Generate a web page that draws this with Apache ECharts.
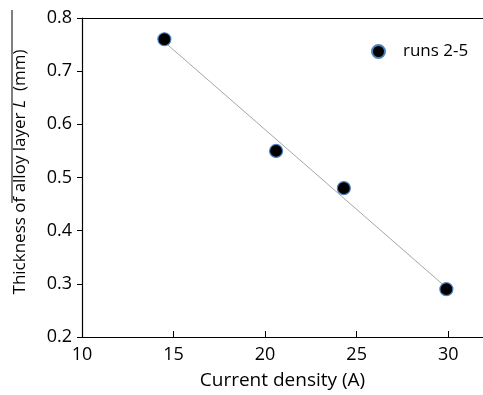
<!DOCTYPE html>
<html>
<head>
<meta charset="utf-8">
<script src="https://cdn.jsdelivr.net/npm/echarts@6/dist/echarts.min.js"></script>
<style>
  html, body { margin: 0; padding: 0; background: #fff; }
  #chart { width: 483px; height: 395px; }
</style>
</head>
<body>
<div id="chart"></div>
<script>
// Current density (A) vs. thickness of the alloy layer L (mm)
const seriesName = 'runs 2-5';
const currentDensity = [14.5, 20.6, 24.3, 29.9];
const thickness = [0.76, 0.55, 0.48, 0.29];
// Linear trend line end points
const trendX = [14.5, 29.9];
const trendY = [0.755, 0.293];

const xTitle = 'Current density (A)';
const fontFamily = '"Open Sans", Lato, sans-serif';

const points = currentDensity.map((x, i) => [x, thickness[i]]);
const trend = trendX.map((x, i) => [x, trendY[i]]);

const chart = echarts.init(document.getElementById('chart'));
chart.setOption({
  animation: false,
  backgroundColor: '#fff',
  textStyle: { fontFamily },
  grid: { left: 82, top: 18, right: 0, bottom: 58, containLabel: false },
  legend: {
    data: [seriesName],
    left: 366, top: 38,
    itemWidth: 13, itemHeight: 13, itemGap: 10,
    textStyle: { fontSize: 17, color: '#000', fontFamily, padding: [0, 0, 0, 13] }
  },
  xAxis: [{
    type: 'value', min: 10, max: 31.9, interval: 5,
    name: xTitle, nameLocation: 'middle', nameGap: 34,
    nameTextStyle: { fontSize: 19, color: '#000', fontFamily },
    axisLine: { show: true, lineStyle: { color: '#000', width: 1.2 } },
    axisTick: { show: true, inside: true, length: 6, lineStyle: { color: '#000' } },
    axisLabel: { fontSize: 18, color: '#000', margin: 9, showMaxLabel: false, fontFamily },
    splitLine: { show: false }
  }, {
    type: 'value', min: 10, max: 31.9, position: 'top',
    axisLine: { show: true, onZero: false, lineStyle: { color: '#000', width: 1.2 } },
    axisTick: { show: false }, axisLabel: { show: false }, splitLine: { show: false }
  }],
  yAxis: {
    type: 'value', min: 0.2, max: 0.8, interval: 0.1,
    axisLine: { show: true, lineStyle: { color: '#000', width: 1.2 } },
    axisTick: { show: true, length: 5, lineStyle: { color: '#000' } },
    axisLabel: { fontSize: 18, color: '#000', margin: 10, fontFamily,
      formatter: v => v.toFixed(1) },
    splitLine: { show: false }
  },
  graphic: [{
    type: 'text',
    x: 20, y: 172, rotation: Math.PI / 2,
    style: {
      text: '{a|Thickness of alloy layer }{i|L}{a|  (mm)}',
      align: 'center', verticalAlign: 'middle',
      rich: {
        a: { fontSize: 17, fontFamily, fill: '#000' },
        i: { fontSize: 17, fontFamily, fill: '#000', fontStyle: 'italic' }
      }
    }
  }, {
    type: 'line',
    shape: { x1: 12, y1: 10, x2: 12, y2: 203 },
    style: { stroke: '#000', lineWidth: 1 }
  }],
  series: [{
    name: 'trend', type: 'line', data: trend,
    symbol: 'none', silent: true, z: 1,
    lineStyle: { color: '#a6a6a6', width: 1 }
  }, {
    name: seriesName, type: 'scatter', data: points,
    symbol: 'circle', symbolSize: 13, z: 3,
    itemStyle: { color: '#000', opacity: 1, borderColor: '#4f81bd', borderWidth: 1.2 }
  }]
});
</script>
</body>
</html>
